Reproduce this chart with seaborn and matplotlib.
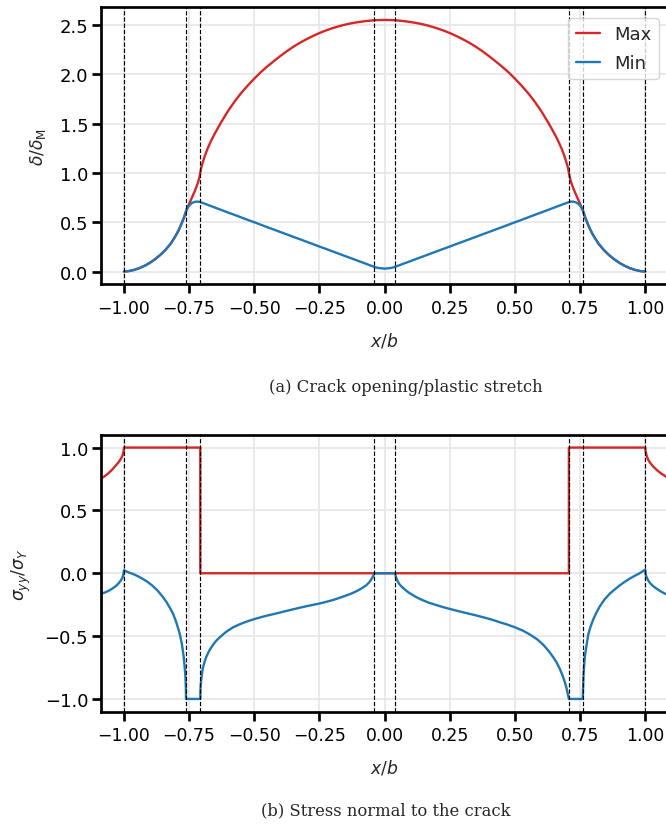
import matplotlib
matplotlib.use("Agg")
import matplotlib.pyplot as plt
from matplotlib.ticker import FuncFormatter
import seaborn as sns
import pandas as pd

# ---------------- data ----------------
# (a) crack opening / plastic stretch, x/b from -1 to 1
x_top = [-1.0, -0.98, -0.96, -0.94, -0.92, -0.90, -0.88, -0.86, -0.84, -0.82, -0.80,
         -0.79, -0.78, -0.77, -0.765, -0.76, -0.755, -0.75, -0.745, -0.74, -0.735,
         -0.73, -0.725, -0.72, -0.715, -0.711, -0.707, -0.704, -0.70, -0.69, -0.68,
         -0.67, -0.66, -0.65, -0.63, -0.60, -0.575, -0.55, -0.525, -0.50, -0.475,
         -0.45, -0.425, -0.40, -0.375, -0.35, -0.325, -0.30, -0.275, -0.25, -0.225,
         -0.20, -0.175, -0.15, -0.125, -0.10, -0.075, -0.05, -0.04, -0.025, 0.0,
         0.025, 0.04, 0.05, 0.075, 0.10, 0.125, 0.15, 0.175, 0.20, 0.225,
         0.25, 0.275, 0.30, 0.325, 0.35, 0.375, 0.40, 0.425, 0.45, 0.475,
         0.50, 0.525, 0.55, 0.575, 0.60, 0.63, 0.65, 0.66, 0.67, 0.68,
         0.69, 0.70, 0.704, 0.707, 0.711, 0.715, 0.72, 0.725, 0.73, 0.735,
         0.74, 0.745, 0.75, 0.755, 0.76, 0.765, 0.77, 0.78, 0.79, 0.80,
         0.82, 0.84, 0.86, 0.88, 0.90, 0.92, 0.94, 0.96, 0.98, 1.0]
max_top = [0.0, 0.006, 0.018, 0.036, 0.06, 0.09, 0.127, 0.17, 0.222, 0.285, 0.37,
           0.42, 0.48, 0.545, 0.585, 0.625, 0.655, 0.685, 0.715, 0.745, 0.775,
           0.805, 0.838, 0.872, 0.91, 0.95, 1.0, 1.045, 1.085, 1.17, 1.24,
           1.30, 1.355, 1.405, 1.50, 1.63, 1.725, 1.81, 1.885, 1.955, 2.02,
           2.078, 2.132, 2.184, 2.233, 2.278, 2.318, 2.354, 2.387, 2.417, 2.443,
           2.466, 2.486, 2.503, 2.517, 2.528, 2.537, 2.544, 2.546, 2.548, 2.55,
           2.548, 2.546, 2.544, 2.537, 2.528, 2.517, 2.503, 2.486, 2.466, 2.443,
           2.417, 2.387, 2.354, 2.318, 2.278, 2.233, 2.184, 2.132, 2.078, 2.02,
           1.955, 1.885, 1.81, 1.725, 1.63, 1.50, 1.405, 1.355, 1.30, 1.24,
           1.17, 1.085, 1.045, 1.0, 0.95, 0.91, 0.872, 0.838, 0.805, 0.775,
           0.745, 0.715, 0.685, 0.655, 0.625, 0.585, 0.545, 0.48, 0.42, 0.37,
           0.285, 0.222, 0.17, 0.127, 0.09, 0.06, 0.036, 0.018, 0.006, 0.0]
min_top = [0.0, 0.006, 0.018, 0.036, 0.06, 0.09, 0.127, 0.17, 0.222, 0.285, 0.37,
           0.42, 0.48, 0.545, 0.585, 0.625, 0.65, 0.668, 0.682, 0.693, 0.70,
           0.705, 0.708, 0.709, 0.709, 0.707, 0.704, 0.701, 0.697, 0.688, 0.678,
           0.668, 0.658, 0.648, 0.628, 0.598, 0.574, 0.549, 0.524, 0.50, 0.475,
           0.45, 0.426, 0.401, 0.377, 0.352, 0.328, 0.303, 0.279, 0.254, 0.23,
           0.205, 0.181, 0.156, 0.132, 0.107, 0.083, 0.058, 0.048, 0.037, 0.03,
           0.037, 0.048, 0.058, 0.083, 0.107, 0.132, 0.156, 0.181, 0.205, 0.23,
           0.254, 0.279, 0.303, 0.328, 0.352, 0.377, 0.401, 0.426, 0.45, 0.475,
           0.50, 0.524, 0.549, 0.574, 0.598, 0.628, 0.648, 0.658, 0.668, 0.678,
           0.688, 0.697, 0.701, 0.704, 0.707, 0.709, 0.709, 0.708, 0.705, 0.70,
           0.693, 0.682, 0.668, 0.65, 0.625, 0.585, 0.545, 0.48, 0.42, 0.37,
           0.285, 0.222, 0.17, 0.127, 0.09, 0.06, 0.036, 0.018, 0.006, 0.0]

# (b) stress normal to the crack
x_max_bot = [-1.088, -1.075, -1.06, -1.045, -1.03, -1.02, -1.012, -1.006, -1.003,
             -1.001, -1.0, -0.707, -0.707, 0.707, 0.707, 1.0, 1.001, 1.003, 1.006,
             1.012, 1.02, 1.03, 1.045, 1.06, 1.075, 1.088]
max_bot = [0.755, 0.77, 0.795, 0.825, 0.86, 0.885, 0.91, 0.935, 0.955,
           0.975, 1.0, 1.0, 0.0, 0.0, 1.0, 1.0, 0.975, 0.955, 0.93,
           0.9, 0.875, 0.85, 0.82, 0.795, 0.775, 0.755]

x_min_bot = [-1.088, -1.075, -1.06, -1.045, -1.03, -1.02, -1.012, -1.006, -1.003,
             -1.001, -1.0, -0.99, -0.98, -0.965, -0.95, -0.93, -0.91, -0.89, -0.87,
             -0.85, -0.835, -0.825, -0.812, -0.80, -0.786, -0.778, -0.771, -0.767,
             -0.764, -0.7625, -0.762,
             -0.707, -0.7065, -0.705, -0.703, -0.70, -0.697, -0.69, -0.684, -0.675,
             -0.665, -0.655, -0.645, -0.63, -0.613, -0.60, -0.581, -0.56, -0.543,
             -0.52, -0.50, -0.475, -0.453, -0.42, -0.389, -0.357, -0.325, -0.29,
             -0.25, -0.225, -0.198, -0.165, -0.134, -0.115, -0.096, -0.082, -0.070,
             -0.060, -0.053, -0.047, -0.043, -0.040,
             0.040, 0.043, 0.046, 0.051, 0.058, 0.067, 0.078, 0.092, 0.109, 0.128,
             0.148, 0.172, 0.199, 0.225, 0.25, 0.28, 0.314, 0.346, 0.378, 0.41,
             0.442, 0.47, 0.50, 0.53, 0.557, 0.585, 0.609, 0.63, 0.647, 0.66,
             0.672, 0.683, 0.692, 0.698, 0.702, 0.705, 0.707,
             0.760, 0.7615, 0.763, 0.766, 0.769, 0.775, 0.781, 0.79, 0.801, 0.812,
             0.826, 0.845, 0.865, 0.885, 0.903, 0.92, 0.941, 0.96, 0.98, 0.99, 1.0,
             1.001, 1.003, 1.006, 1.012, 1.02, 1.03, 1.045, 1.06, 1.075, 1.088]
min_bot = [-0.162, -0.155, -0.141, -0.123, -0.10, -0.079, -0.058, -0.035, -0.015,
           0.005, 0.024, 0.014, 0.005, -0.006, -0.02, -0.042, -0.068, -0.10, -0.14,
           -0.19, -0.235, -0.27, -0.32, -0.385, -0.48, -0.56, -0.66, -0.745,
           -0.83, -0.91, -1.0,
           -1.0, -0.93, -0.88, -0.84, -0.79, -0.75, -0.70, -0.665, -0.625,
           -0.59, -0.56, -0.535, -0.505, -0.475, -0.455, -0.43, -0.41, -0.395,
           -0.378, -0.365, -0.35, -0.338, -0.322, -0.306, -0.29, -0.274, -0.258,
           -0.241, -0.228, -0.213, -0.19, -0.167, -0.15, -0.13, -0.112, -0.095,
           -0.074, -0.055, -0.035, -0.018, 0.0,
           0.0, -0.025, -0.045, -0.068, -0.09, -0.11, -0.13, -0.153, -0.175, -0.197,
           -0.216, -0.236, -0.253, -0.27, -0.284, -0.30, -0.317, -0.333, -0.35, -0.368,
           -0.39, -0.408, -0.43, -0.456, -0.487, -0.525, -0.57, -0.62, -0.668, -0.71,
           -0.76, -0.815, -0.87, -0.915, -0.955, -0.98, -1.0,
           -1.0, -0.90, -0.81, -0.72, -0.65, -0.57, -0.49, -0.425, -0.365, -0.315,
           -0.262, -0.205, -0.16, -0.125, -0.095, -0.07, -0.042, -0.02, 0.002, 0.015, 0.029,
           0.0, -0.018, -0.035, -0.06, -0.082, -0.102, -0.125, -0.145, -0.162, -0.172]

vlines = [-1.0, -0.76, -0.707, -0.04, 0.04, 0.707, 0.76, 1.0]
top_yticks = [0.0, 0.5, 1.0, 1.5, 2.0, 2.5]
bot_yticks = [-1.0, -0.5, 0.0, 0.5, 1.0]
xticks = [-1.0, -0.75, -0.5, -0.25, 0.0, 0.25, 0.5, 0.75, 1.0]
series = ["Max", "Min"]
captions = ["(a) Crack opening/plastic stretch", "(b) Stress normal to the crack"]

RED = "#d62728"
BLUE = "#1f77b4"

# ---------------- style ----------------
sns.set_style("ticks")
plt.rcParams.update({
    "font.family": ["DejaVu Sans"],
    "mathtext.fontset": "dejavusans",
    "axes.linewidth": 1.95,
    "xtick.major.width": 1.95,
    "ytick.major.width": 1.95,
    "xtick.major.size": 6.7,
    "ytick.major.size": 6.7,
    "xtick.direction": "out",
    "ytick.direction": "out",
    "xtick.color": "black",
    "ytick.color": "black",
    "axes.edgecolor": "black",
})

W, H = 666, 828
fig = plt.figure(figsize=(W / 100, H / 100), dpi=100)

def px_axes(left, top, right, bottom):
    return [left / W, 1 - bottom / H, (right - left) / W, (bottom - top) / H]

ax1 = fig.add_axes(px_axes(101, 8.3, 668.2, 285.2))
ax2 = fig.add_axes(px_axes(101, 436, 668.2, 712.5))

df_top = pd.DataFrame({"x": x_top, "Max": max_top, "Min": min_top})
df_bmax = pd.DataFrame({"x": x_max_bot, "y": max_bot})
df_bmin = pd.DataFrame({"x": x_min_bot, "y": min_bot})

lw = 1.7
sns.lineplot(data=df_top, x="x", y="Max", ax=ax1, color=RED, lw=lw, label=series[0],
             sort=False, estimator=None)
sns.lineplot(data=df_top, x="x", y="Min", ax=ax1, color=BLUE, lw=lw, label=series[1],
             sort=False, estimator=None)
sns.lineplot(data=df_bmax, x="x", y="y", ax=ax2, color=RED, lw=lw,
             sort=False, estimator=None)
sns.lineplot(data=df_bmin, x="x", y="y", ax=ax2, color=BLUE, lw=lw,
             sort=False, estimator=None)

fmt2 = FuncFormatter(lambda v, p: f"{v:.2f}".replace("-", "\u2212"))
fmt1 = FuncFormatter(lambda v, p: f"{v:.1f}".replace("-", "\u2212"))

for ax, yt, ylim in [(ax1, top_yticks, (-0.1275, 2.6775)), (ax2, bot_yticks, (-1.1, 1.1))]:
    for v in vlines:
        ax.axvline(v, color="k", lw=0.85, ls="--", zorder=3)
    ax.set_xlim(-1.088, 1.088)
    ax.set_ylim(*ylim)
    ax.set_xticks(xticks)
    ax.set_yticks(yt)
    ax.xaxis.set_major_formatter(fmt2)
    ax.yaxis.set_major_formatter(fmt1)
    ax.grid(True, color="#e6e6e6", lw=1.2, zorder=0)
    ax.set_axisbelow(True)
    ax.tick_params(axis="x", labelsize=12.4, pad=4)
    ax.tick_params(axis="y", labelsize=13.0, pad=2.5)
    ax.set_xlabel("$x/b$", fontsize=12.4, labelpad=9.5)
    for s in ax.spines.values():
        s.set_linewidth(1.95)

ax1.set_ylabel(r"$\delta/\delta_\mathrm{M}$", fontsize=12.4, labelpad=8.5)
ax2.set_ylabel(r"$\sigma_{yy}/\sigma_Y$", fontsize=12.4, labelpad=8.5)

leg = ax1.legend(loc="upper right", fontsize=13, handlelength=1.35,
                 handletextpad=0.8, borderpad=0.4, labelspacing=0.6,
                 borderaxespad=0.0, bbox_to_anchor=(0.9838, 0.9614), frameon=True)
leg.get_frame().set_edgecolor("#cccccc")

fig.text(405.8 / W, 1 - 388 / H, captions[0], ha="center", va="center",
         family=["DejaVu Serif"], fontsize=11.8)
fig.text(385.8 / W, 1 - 811 / H, captions[1], ha="center", va="center",
         family=["DejaVu Serif"], fontsize=11.8)

fig.savefig("out.png", dpi=100)
